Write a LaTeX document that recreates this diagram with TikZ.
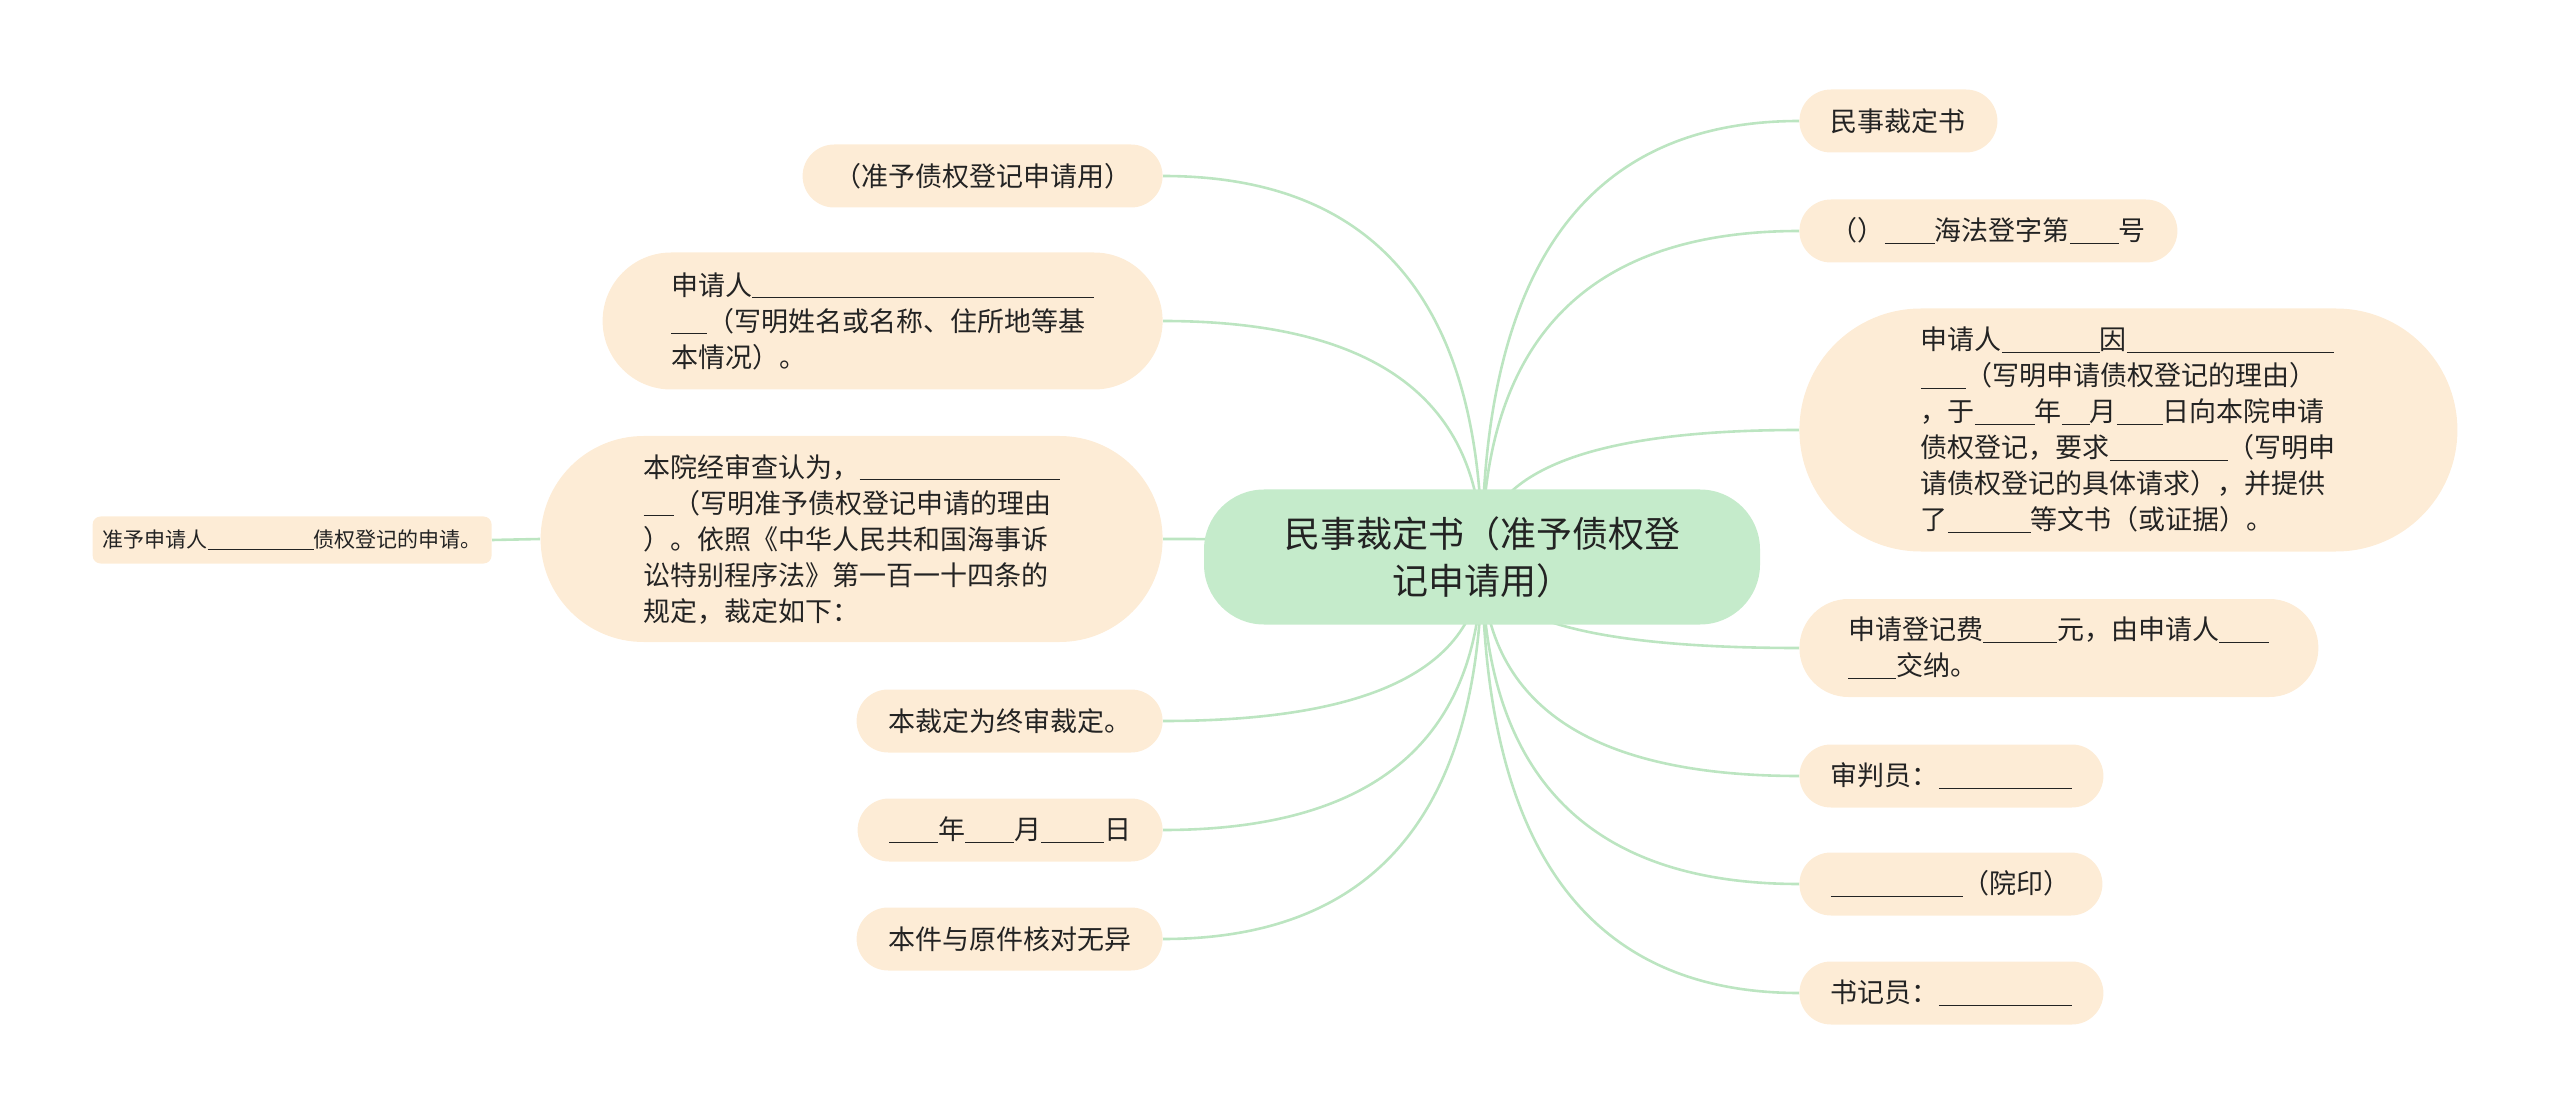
\documentclass[tikz,border=0pt]{standalone}
\usepackage{fontspec}
\setmainfont{Noto Sans CJK SC}
\definecolor{rootfill}{RGB}{197, 235, 203}
\definecolor{leaffill}{RGB}{253, 236, 214}
\definecolor{linkgreen}{RGB}{188, 229, 193}
\definecolor{ink}{RGB}{35, 35, 35}
\newcommand{\underblank}[1]{\rule[-1.6pt]{\dimexpr #1pt/2\relax}{0.6pt}}
\usetikzlibrary{positioning, calc, backgrounds}

\begin{document}
\begin{tikzpicture}[x=0.5pt, y=-0.5pt,
    every node/.style={text=ink},
    topic/.style={rectangle, rounded corners=30pt, fill=rootfill, align=center, inner xsep=40pt, inner ysep=2pt,
        minimum height=67.5pt, font=\fontsize{18pt}{23.5pt}\selectfont},
    leaf/.style={rectangle, rounded corners=#1, fill=leaffill, align=left, inner xsep=#1, inner ysep=2pt,
        minimum height={2*#1}, font=\fontsize{13.5pt}{18pt}\selectfont},
    leaf/.default=15.75pt,
    note/.style={rectangle, rounded corners=4pt, fill=leaffill, inner xsep=5pt, inner ysep=2pt,
        minimum height=23.5pt, font=\fontsize{10.5pt}{14pt}\selectfont},
    conn/.style={draw=linkgreen, line width=1.3pt},
]
\useasboundingbox (0,0) rectangle (2560,1117);

\node[topic] (root) at (1482,557) {民事裁定书（准予债权登\\记申请用）};

\node[leaf, anchor=west] (r1) at (1799,121) {民事裁定书};
\node[leaf, anchor=west] (r2) at (1799,231) {（）\underblank{50}海法登字第\underblank{49}号};
\node[leaf=60.75pt, anchor=west] (r3) at (1799,430) {申请人\underblank{98}因\underblank{207}\\\underblank{45}（写明申请债权登记的理由）\\，于\underblank{60}年\underblank{28}月\underblank{46}日向本院申请\\债权登记，要求\underblank{118}（写明申\\请债权登记的具体请求），并提供\\了\underblank{83}等文书（或证据）。};
\node[leaf=24.5pt, anchor=west] (r4) at (1799,648) {申请登记费\underblank{74}元，由申请人\underblank{50}\\\underblank{48}交纳。};
\node[leaf, anchor=west] (r5) at (1799,776) {审判员：\underblank{133}};
\node[leaf, anchor=west] (r6) at (1799,884) {\underblank{132}（院印）};
\node[leaf, anchor=west] (r7) at (1799,993) {书记员：\underblank{133}};

\node[leaf, anchor=east] (l1) at (1163,176) {（准予债权登记申请用）};
\node[leaf=34.25pt, anchor=east] (l2) at (1163,321) {申请人\underblank{342}\\\underblank{36}（写明姓名或名称、住所地等基\\本情况）。};
\node[leaf=51.5pt, anchor=east] (l3) at (1163,539) {本院经审查认为，\underblank{200}\\\underblank{30}（写明准予债权登记申请的理由\\）。依照《中华人民共和国海事诉\\讼特别程序法》第一百一十四条的\\规定，裁定如下：};
\node[note, anchor=east] (l4) at (492,540) {准予申请人\underblank{106}债权登记的申请。};
\node[leaf, anchor=east] (l5) at (1163,721) {本裁定为终审裁定。};
\node[leaf, anchor=east] (l6) at (1163,830) {\underblank{49}年\underblank{49}月\underblank{63}日};
\node[leaf, anchor=east] (l7) at (1163,939) {本件与原件核对无异};

\begin{scope}[on background layer]
\foreach \n in {r1,r2,r3,r4,r5,r6,r7}
    \draw[conn] (root.center) .. controls ($(root.center)!0.667!(root.center |- \n.west)$)
        and ($(\n.west)!0.667!(root.center |- \n.west)$) .. (\n.west);
\foreach \n in {l1,l2,l3,l5,l6,l7}
    \draw[conn] (root.center) .. controls ($(root.center)!0.667!(root.center |- \n.east)$)
        and ($(\n.east)!0.667!(root.center |- \n.east)$) .. (\n.east);
\draw[conn] (l3.west) -- (l4.east);
\end{scope}
\end{tikzpicture}
\end{document}
